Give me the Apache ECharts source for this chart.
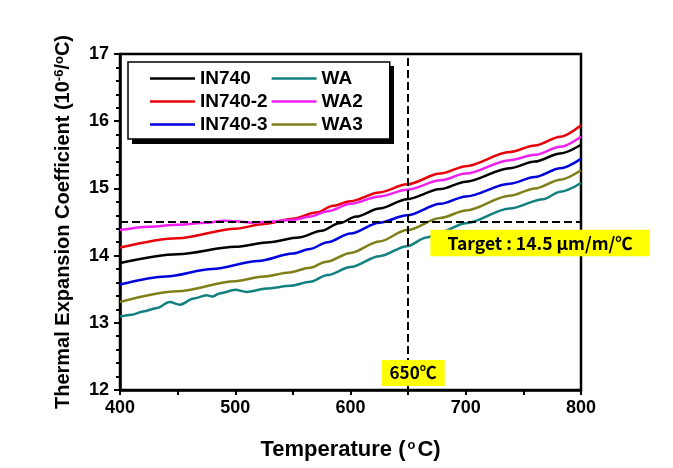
<!DOCTYPE html>
<html><head><meta charset="utf-8">
<script src="https://cdn.jsdelivr.net/npm/echarts@6/dist/echarts.min.js"></script>
<style>html,body{margin:0;padding:0;background:#fff}#c{width:673px;height:468px}</style>
</head><body><div id="c"></div>
<script>
// ---- data ----
const xTicks = [400, 500, 600, 700, 800];
const yTicks = [12, 13, 14, 15, 16, 17];

const tIN740  = [400,450,500,530,555,575,590,605,625,649,678,700,738,760,782,800];
const vIN740  = [13.89,14.02,14.13,14.20,14.27,14.37,14.48,14.58,14.70,14.84,14.99,15.10,15.30,15.40,15.52,15.65];

const tIN740_2 = [400,450,500,525,550,570,585,600,625,649,678,700,738,760,782,800];
const vIN740_2 = [14.12,14.26,14.40,14.47,14.55,14.64,14.74,14.81,14.94,15.06,15.22,15.33,15.54,15.64,15.77,15.94];

const tIN740_3 = [400,440,480,520,550,565,580,600,625,649,678,700,738,760,782,800];
const vIN740_3 = [13.57,13.69,13.80,13.92,14.03,14.10,14.20,14.33,14.49,14.60,14.77,14.88,15.07,15.17,15.30,15.44];

const tWA  = [400,410,420,432,443,452,464,475,480,487,500,510,527,548,565,580,600,625,649,666,678,700,738,767,782,800];
const vWA  = [13.09,13.12,13.17,13.22,13.31,13.27,13.36,13.41,13.39,13.44,13.49,13.46,13.51,13.55,13.61,13.71,13.83,13.99,14.14,14.27,14.35,14.48,14.70,14.84,14.95,15.08];

const tWA2 = [400,425,450,475,490,500,515,525,550,565,580,600,625,649,678,700,738,760,782,800];
const vWA2 = [14.38,14.43,14.46,14.49,14.52,14.51,14.49,14.50,14.53,14.58,14.66,14.77,14.88,14.98,15.12,15.22,15.42,15.50,15.62,15.77];

const tWA3 = [400,450,500,525,547,565,579,600,625,649,678,700,738,760,782,800];
const vWA3 = [13.31,13.47,13.62,13.69,13.75,13.82,13.91,14.04,14.21,14.38,14.56,14.67,14.89,15.00,15.13,15.27];

const names  = ['IN740','IN740-2','IN740-3','WA','WA2','WA3'];
const colors = ['#000000','#e8000b','#0000dd','#138080','#f020f0','#7f7f1a'];

const targetValue = 14.5;
const targetTemp = 650;
const targetText = 'Target : 14.5 μm/m/℃';
const tempText = '650℃';

// ---- chart ----
const chart = echarts.init(document.getElementById('c'), null, {renderer:'canvas'});
const zip = (t, v) => t.map((x, i) => [x, v[i]]);
const seriesData = [zip(tIN740,vIN740), zip(tIN740_2,vIN740_2), zip(tIN740_3,vIN740_3), zip(tWA,vWA), zip(tWA2,vWA2), zip(tWA3,vWA3)];

const FF = "'Liberation Sans', Arial, Helvetica, sans-serif";
const axisFont = {fontFamily: FF, fontWeight:'bold', color:'#000'};
const annoFont = {fontFamily:"'Noto Sans CJK KR', 'Noto Sans', sans-serif", fontWeight:'bold', color:'#000'};

const series = names.map((n, i) => ({
  name: n, type: 'line', data: seriesData[i], symbol: 'none', smooth: 0.3, smoothMonotone: 'x',
  lineStyle: {color: colors[i], width: 2.5}, itemStyle: {color: colors[i]},
  z: 3, silent: true, clip: false
}));

series[0].markLine = {
  silent: true, symbol: ['none','none'], label: {show:false},
  lineStyle: {color:'#000', width:2, type:[8,4]},
  emphasis: {disabled:true},
  data: [
    [{coord:[400, targetValue]}, {coord:[800, targetValue]}],
    [{coord:[targetTemp, 12]}, {coord:[targetTemp, 17]}]
  ]
};
series[0].markPoint = {
  silent: true, symbol: 'circle', symbolSize: 0,
  data: [
    {coord:[targetTemp, targetValue], label:{show:true, formatter: targetText, offset:[132, 21],
      backgroundColor:'#ffff00', padding:[4,17,5,17], fontSize:17.5, ...annoFont}},
    {coord:[targetTemp, 12], label:{show:true, formatter: tempText, offset:[5, -17],
      backgroundColor:'#ffff00', padding:[4,8,5,8], fontSize:17, ...annoFont}}
  ]
};

chart.setOption({
  animation: false,
  backgroundColor: '#fff',
  grid: {left:120, right:92, top:54, bottom:78, show:true, borderColor:'#000', borderWidth:2.5},
  graphic: [{type:'rect', left:132, top:66, shape:{width:262, height:78}, style:{fill:'#000'}, z:4, silent:true}],
  legend: {
    data: names, orient:'vertical', left:128, top:62, height:70, z:5,
    padding:[7,27,5,22], itemGap:4, itemWidth:45, itemHeight:18,
    icon: 'path://M0,8 L45,8 L45,10.5 L0,10.5 Z',
    textStyle: {fontSize:19, padding:[0,4,0,0], ...axisFont},
    borderColor:'#000', borderWidth:1.5, backgroundColor:'#fff',
    selectedMode:false, itemStyle:{borderWidth:0}
  },
  xAxis: {
    type:'value', min:400, max:800, interval:100,
    axisLine:{show:true, lineStyle:{color:'#000', width:2.5}},
    axisTick:{show:true, length:5, lineStyle:{color:'#000', width:2}},
    minorTick:{show:true, splitNumber:2, length:5, lineStyle:{color:'#000', width:2}},
    splitLine:{show:false},
    axisLabel:{margin:9, fontSize:18, ...axisFont, formatter: v => xTicks.includes(v) ? String(v) : ''},
    name:'Temperature ({sup|o}C)', nameLocation:'middle', nameGap:49,
    nameTextStyle:{fontSize:22, ...axisFont, rich:{sup:{fontSize:13, verticalAlign:'top', ...axisFont, padding:[0,2,9,2]}}}
  },
  yAxis: {
    type:'value', min:12, max:17, interval:1,
    axisLine:{show:true, lineStyle:{color:'#000', width:2.5}},
    axisTick:{show:true, length:6, lineStyle:{color:'#000', width:2}},
    minorTick:{show:true, splitNumber:5, length:4, lineStyle:{color:'#000', width:2}},
    splitLine:{show:false},
    axisLabel:{margin:11, fontSize:18, ...axisFont, formatter: v => yTicks.includes(v) ? String(v) : ''},
    name:'Thermal Expansion Coefficient (10{sup|-6}/{sup|o}C)', nameLocation:'middle', nameGap:46, nameRotate:90,
    nameTextStyle:{fontSize:20, ...axisFont, rich:{sup:{fontSize:13, verticalAlign:'top', ...axisFont, padding:[0,0,8,0]}}}
  },
  series: series
});
</script>
</body></html>
